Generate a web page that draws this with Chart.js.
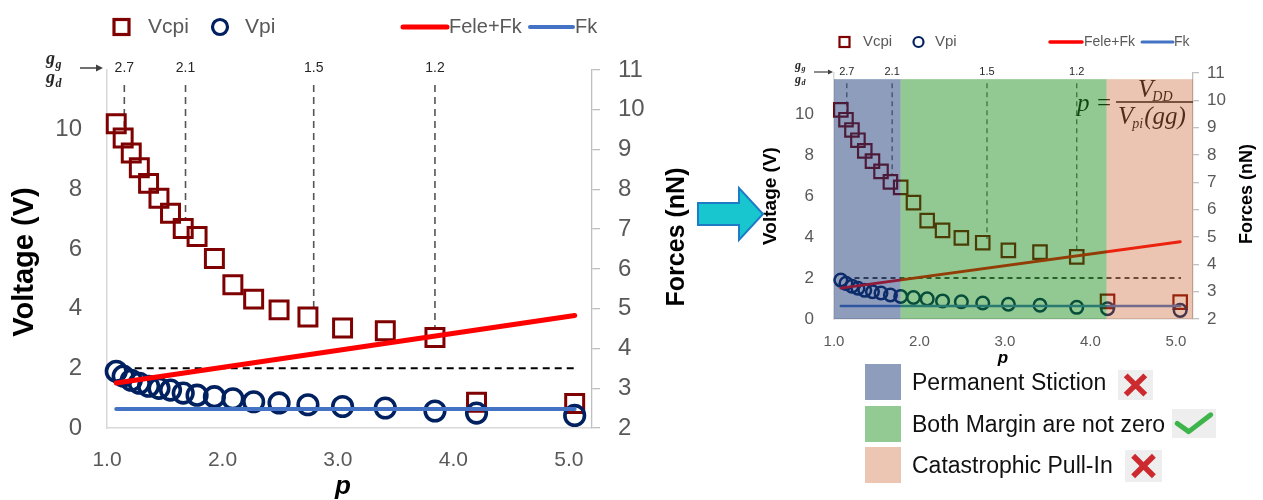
<!DOCTYPE html>
<html><head><meta charset="utf-8">
<script src="https://cdn.jsdelivr.net/npm/chart.js@4.4.0/dist/chart.umd.min.js"></script>
<style>
body{margin:0;background:#fff;width:1263px;height:500px;overflow:hidden;position:relative;font-family:"Liberation Sans",Arial,sans-serif;}
canvas{position:absolute;}
#c1{left:0;top:0;}
#c2{left:700px;top:0;}
.sw{position:absolute;left:865px;width:36px;height:36px;}
.lt{position:absolute;left:912px;font-size:23px;color:#111;line-height:26px;white-space:nowrap;}
.ic{position:absolute;}
</style></head><body>
<canvas id="c1" width="700" height="500"></canvas>
<canvas id="c2" width="563" height="380"></canvas>
<svg style="position:absolute;left:690px;top:180px" width="80" height="70">
  <polygon points="8,23 49,23 49,8 73,34 49,60 49,45 8,45" fill="#17C6CF" stroke="#1E7BC6" stroke-width="2"/>
</svg>
<div id="leg"></div>
<script>
// ---------- data ----------
const seriesNames = ['Vcpi', 'Vpi', 'Fele+Fk', 'Fk'];
const pVals = [1.08, 1.14, 1.21, 1.28, 1.36, 1.45, 1.55, 1.66, 1.78, 1.93, 2.09, 2.27, 2.49, 2.74, 3.04, 3.41, 3.84, 4.20, 5.05];
const vcpi  = [10.2, 9.72, 9.22, 8.72, 8.2, 7.7, 7.2, 6.69, 6.42, 5.68, 4.8, 4.32, 3.96, 3.72, 3.35, 3.26, 3.03, 0.86, 0.82];
const vpi   = [1.9, 1.74, 1.6, 1.5, 1.4, 1.33, 1.27, 1.17, 1.1, 1.05, 0.98, 0.88, 0.84, 0.78, 0.72, 0.67, 0.57, 0.5, 0.42];
const feleP = [1.08, 5.05];
const feleF = [3.13, 4.83];
const fkP   = [1.08, 5.05];
const fkF   = [2.48, 2.48];
const refP  = [1.24, 5.06];
const refF  = [3.5, 3.5];
const ggP      = [1.15, 1.68, 2.79, 3.84];
const ggLabels = ['2.7', '2.1', '1.5', '1.2'];
const ggTop    = 11.5;
const ggBottom = [10.1, 7.0, 3.9, 3.3];
const xTicks = [1, 2, 3, 4, 5];
const vTicks = [0, 2, 4, 6, 8, 10];
const fTicks = [2, 3, 4, 5, 6, 7, 8, 9, 10, 11];
const bandEdges  = [1.0, 1.78, 4.19, 5.2];
const bandTopV   = 11.7;
const bandColors = ['rgba(24,55,118,0.49)', 'rgba(13,133,13,0.45)', 'rgba(200,95,40,0.36)'];
const regionLabels = ['Permanent Stiction', 'Both Margin are not zero', 'Catastrophic Pull-In'];
const regionSwatches = ['#8E9DBB', '#93C993', '#ECC6B2'];

const F = '"Liberation Sans", Arial, sans-serif';
const SERIF = '"Liberation Serif", "DejaVu Serif", serif';

const L1 = {
  W:700, H:500, top:70, lW:107, rW:108, xH:72,
  yFont:24, fFont:24, xFont:21, yPad:25, fPad:18, xPad:20, tickLen:8,
  sR:12.7, sW:3, cR:9.8, cW:3.6, redW:5, blueW:4, hDashW:2, hDash:[7,5], vDashW:1.6, vDash:[7,5],
  ggFont:14, ggY:68,
  frac:{x:46, y1:64, y2:83, big:18, small:12, ax1:80, ax2:103, ay:68, aw:1.5, ah:7},
  vTitle:{x:25, y:262, size:29}, fTitle:{x:677, y:237, size:25}, pTitle:{x:343, y:487, size:26},
  legend:{y:27, sq:{x:121.5, s:15, w:3.2}, t1:148, ci:{x:220, r:7.5, w:3.2}, t2:245, font:21,
          red:[403,447,5], t3:449, blue:[530,573,4], t4:575, font2:20},
  bands:false, formula:null
};
const L2 = {
  W:563, H:380, top:73, lW:134, rW:70, xH:61,
  yFont:17, fFont:17, xFont:15, yPad:20, fPad:8, xPad:14, tickLen:6,
  sR:9.5, sW:2.2, cR:6.3, cW:2.5, redW:3, blueW:2.5, hDashW:1.3, hDash:[5,4], vDashW:1.2, vDash:[5,4],
  ggFont:11, ggY:72,
  frac:{x:95, y1:69, y2:83, big:12, small:8, ax1:114, ax2:133, ay:72, aw:1.2, ah:5},
  vTitle:{x:71, y:196, size:19}, fTitle:{x:547, y:194, size:18}, pTitle:{x:303, y:358, size:17},
  legend:{y:42, sq:{x:144.5, s:10, w:2.2}, t1:163, ci:{x:218.5, r:5, w:2.2}, t2:235, font:15,
          red:[350,382,3.5], t3:384, blue:[442,473,3], t4:474, font2:14},
  bands:true,
  formula:{px:377, base:111, big:25, small:14, eqx:397, barL:416, barR:493, barY:102, numX:438, numBase:97, denX:418, denBase:124}
};

function drawFrac(ctx, f){
  ctx.save();
  ctx.fillStyle = '#262626';
  ctx.textAlign = 'left'; ctx.textBaseline = 'alphabetic';
  ctx.font = `italic bold ${f.big}px ${SERIF}`;
  const w = ctx.measureText('g').width;
  ctx.fillText('g', f.x, f.y1);
  ctx.fillText('g', f.x, f.y2);
  ctx.font = `italic bold ${f.small}px ${SERIF}`;
  ctx.fillText('g', f.x + w + 0.5, f.y1 + f.small * 0.3);
  ctx.fillText('d', f.x + w + 0.5, f.y2 + f.small * 0.3);
  ctx.strokeStyle = '#404040'; ctx.fillStyle = '#404040'; ctx.lineWidth = f.aw;
  ctx.beginPath(); ctx.moveTo(f.ax1, f.ay); ctx.lineTo(f.ax2 - f.ah, f.ay); ctx.stroke();
  ctx.beginPath(); ctx.moveTo(f.ax2, f.ay); ctx.lineTo(f.ax2 - f.ah, f.ay - f.ah * 0.5); ctx.lineTo(f.ax2 - f.ah, f.ay + f.ah * 0.5); ctx.closePath(); ctx.fill();
  ctx.restore();
}

function drawLegend(ctx, g){
  ctx.save();
  ctx.strokeStyle = '#7F0000'; ctx.lineWidth = g.sq.w;
  ctx.strokeRect(g.sq.x - g.sq.s/2, g.y - g.sq.s/2, g.sq.s, g.sq.s);
  ctx.strokeStyle = '#002060'; ctx.lineWidth = g.ci.w;
  ctx.beginPath(); ctx.arc(g.ci.x, g.y, g.ci.r, 0, Math.PI*2); ctx.stroke();
  ctx.fillStyle = '#595959'; ctx.textBaseline = 'middle'; ctx.textAlign = 'left';
  ctx.font = `${g.font}px ${F}`;
  ctx.fillText(seriesNames[0], g.t1, g.y);
  ctx.fillText(seriesNames[1], g.t2, g.y);
  ctx.lineCap = 'round';
  ctx.strokeStyle = '#FF0000'; ctx.lineWidth = g.red[2];
  ctx.beginPath(); ctx.moveTo(g.red[0], g.y); ctx.lineTo(g.red[1], g.y); ctx.stroke();
  ctx.strokeStyle = '#4472C4'; ctx.lineWidth = g.blue[2];
  ctx.beginPath(); ctx.moveTo(g.blue[0], g.y); ctx.lineTo(g.blue[1], g.y); ctx.stroke();
  ctx.font = `${g.font2}px ${F}`;
  ctx.fillText(seriesNames[2], g.t3, g.y);
  ctx.fillText(seriesNames[3], g.t4, g.y);
  ctx.restore();
}

function drawTitleV(ctx, t, text, font){
  ctx.save();
  ctx.translate(t.x, t.y); ctx.rotate(-Math.PI/2);
  ctx.font = font; ctx.fillStyle = '#000'; ctx.textAlign = 'center'; ctx.textBaseline = 'middle';
  ctx.fillText(text, 0, 0);
  ctx.restore();
}

function makeDeco(L){
  return {
    id: 'deco',
    afterDatasetsDraw(chart){
      const ctx = chart.ctx, xs = chart.scales.x, ys = chart.scales.yV;
      if (L.formula){
        const f = L.formula;
        ctx.save();
        ctx.fillStyle = '#111'; ctx.textAlign = 'left'; ctx.textBaseline = 'alphabetic';
        ctx.font = `italic ${f.big}px ${SERIF}`;
        ctx.fillText('p', f.px, f.base);
        ctx.font = `${f.big}px ${SERIF}`;
        ctx.fillText('=', f.eqx, f.base);
        ctx.font = `italic ${f.big}px ${SERIF}`;
        ctx.fillText('V', f.numX, f.numBase);
        let w = ctx.measureText('V').width;
        ctx.font = `italic ${f.small}px ${SERIF}`;
        ctx.fillText('DD', f.numX + w - 1, f.numBase + 4);
        ctx.font = `italic ${f.big}px ${SERIF}`;
        ctx.fillText('V', f.denX, f.denBase);
        ctx.font = `italic ${f.small}px ${SERIF}`;
        ctx.fillText('pi', f.denX + w - 1, f.denBase + 4);
        const w2 = ctx.measureText('pi').width;
        ctx.font = `italic ${f.big}px ${SERIF}`;
        ctx.fillText('(gg)', f.denX + w + w2, f.denBase);
        ctx.strokeStyle = '#111'; ctx.lineWidth = 1.3;
        ctx.beginPath(); ctx.moveTo(f.barL, f.barY); ctx.lineTo(f.barR, f.barY); ctx.stroke();
        ctx.restore();
      }
      if (L.bands){
        ctx.save();
        const yT = ys.getPixelForValue(bandTopV), yB = ys.getPixelForValue(0);
        for (let i = 0; i < bandColors.length; i++){
          const x0 = xs.getPixelForValue(bandEdges[i]), x1 = xs.getPixelForValue(bandEdges[i+1]);
          ctx.fillStyle = bandColors[i];
          ctx.fillRect(x0, yT, x1 - x0, yB - yT);
        }
        ctx.restore();
      }
    },
    afterDraw(chart){
      const ctx = chart.ctx, xs = chart.scales.x;
      ctx.save();
      ctx.fillStyle = '#262626'; ctx.textAlign = 'center'; ctx.textBaseline = 'middle';
      ctx.font = `${L.ggFont}px ${F}`;
      ggP.forEach((p, i) => ctx.fillText(ggLabels[i], xs.getPixelForValue(p), L.ggY));
      ctx.restore();
      drawFrac(ctx, L.frac);
      drawTitleV(ctx, L.vTitle, 'Voltage (V)', `bold ${L.vTitle.size}px ${F}`);
      drawTitleV(ctx, L.fTitle, 'Forces (nN)', `bold ${L.fTitle.size}px ${F}`);
      ctx.save();
      ctx.font = `italic bold ${L.pTitle.size}px ${F}`; ctx.fillStyle = '#000';
      ctx.textAlign = 'center'; ctx.textBaseline = 'middle';
      ctx.fillText('p', L.pTitle.x, L.pTitle.y);
      ctx.restore();
      drawLegend(ctx, L.legend);
    }
  };
}

function makeChart(id, L){
  const pts = (xa, ya) => xa.map((x, i) => ({x: x, y: ya[i]}));
  const datasets = [
    {label: seriesNames[2], data: pts(feleP, feleF), yAxisID: 'yF', showLine: true, borderColor: '#FF0000',
     borderWidth: L.redW, pointRadius: 0, order: 1, borderCapStyle: 'round', clip: false},
    {label: seriesNames[3], data: pts(fkP, fkF), yAxisID: 'yF', showLine: true, borderColor: '#4472C4',
     borderWidth: L.blueW, pointRadius: 0, order: 2, borderCapStyle: 'round', clip: false},
    {label: seriesNames[1], data: pts(pVals, vpi), yAxisID: 'yV', showLine: false, pointStyle: 'circle',
     pointRadius: L.cR, pointBorderWidth: L.cW, pointBorderColor: '#002060', pointBackgroundColor: 'rgba(0,0,0,0)', order: 3, clip: false},
    {label: seriesNames[0], data: pts(pVals, vcpi), yAxisID: 'yV', showLine: false, pointStyle: 'rect',
     pointRadius: L.sR, pointBorderWidth: L.sW, pointBorderColor: '#7F0000', pointBackgroundColor: 'rgba(0,0,0,0)', order: 4, clip: false},
    {label: 'ref', data: pts(refP, refF), yAxisID: 'yF', showLine: true, borderColor: '#000',
     borderWidth: L.hDashW, borderDash: L.hDash, pointRadius: 0, order: 5}
  ];
  ggP.forEach((p, i) => datasets.push({label: 'gg' + i, data: [{x: p, y: ggTop}, {x: p, y: ggBottom[i]}], yAxisID: 'yV',
    showLine: true, borderColor: '#555', borderWidth: L.vDashW, borderDash: L.vDash, pointRadius: 0, order: 6}));

  return new Chart(document.getElementById(id), {
    type: 'scatter',
    data: {datasets},
    options: {
      responsive: false, animation: false, devicePixelRatio: 1,
      layout: {padding: {top: L.top, left: 0, right: 0, bottom: 0}},
      plugins: {legend: {display: false}, tooltip: {enabled: false}},
      scales: {
        x: {type: 'linear', position: 'bottom', min: 1, max: 5.2,
            afterBuildTicks: s => { s.ticks = xTicks.map(v => ({value: v})); },
            afterFit: s => { s.height = L.xH; },
            grid: {display: false, drawTicks: false},
            border: {display: true, color: '#D9D9D9', width: 1.5},
            ticks: {color: '#595959', font: {family: F, size: L.xFont}, padding: L.xPad, maxRotation: 0, autoSkip: false,
                    callback: v => Number(v).toFixed(1)}},
        yV: {type: 'linear', position: 'left', min: 0, max: 12,
            afterBuildTicks: s => { s.ticks = vTicks.map(v => ({value: v})); },
            afterFit: s => { s.width = L.lW; },
            grid: {display: false, drawTicks: false},
            border: {display: true, color: '#D9D9D9', width: 1.5},
            ticks: {color: '#595959', font: {family: F, size: L.yFont}, padding: L.yPad}},
        yF: {type: 'linear', position: 'right', min: 2, max: 11,
            afterBuildTicks: s => { s.ticks = fTicks.map(v => ({value: v})); },
            afterFit: s => { s.width = L.rW; },
            grid: {display: true, drawOnChartArea: false, drawTicks: true, tickLength: L.tickLen, color: '#BFBFBF', lineWidth: 1.3},
            border: {display: true, color: '#BFBFBF', width: 1.3},
            ticks: {color: '#595959', font: {family: F, size: L.fFont}, padding: L.fPad}}
      }
    },
    plugins: [makeDeco(L)]
  });
}

makeChart('c1', L1);
makeChart('c2', L2);

// bottom-right region legend
const leg = document.getElementById('leg');
const swTops = [364, 406, 447];
const icons = [
  {x: 1118, y: 370, w: 35, h: 30, type: 'x'},
  {x: 1172, y: 409, w: 44, h: 29, type: 'v'},
  {x: 1125, y: 450, w: 37, h: 32, type: 'x'}
];
regionLabels.forEach((t, i) => {
  const s = document.createElement('div');
  s.className = 'sw'; s.style.top = swTops[i] + 'px'; s.style.background = regionSwatches[i];
  leg.appendChild(s);
  const d = document.createElement('div');
  d.className = 'lt'; d.style.top = (swTops[i] + 5) + 'px'; d.textContent = t;
  leg.appendChild(d);
  const ic = icons[i];
  const svg = ic.type === 'x'
    ? `<svg class="ic" style="left:${ic.x}px;top:${ic.y}px" width="${ic.w}" height="${ic.h}"><rect width="${ic.w}" height="${ic.h}" fill="#EEEEEE"/><path d="M${ic.w*0.22},${ic.h*0.18} L${ic.w*0.78},${ic.h*0.82} M${ic.w*0.78},${ic.h*0.18} L${ic.w*0.22},${ic.h*0.82}" stroke="#CC2A2E" stroke-width="5.5" stroke-linecap="butt"/></svg>`
    : `<svg class="ic" style="left:${ic.x}px;top:${ic.y}px" width="${ic.w}" height="${ic.h}"><rect width="${ic.w}" height="${ic.h}" fill="#EEEEEE"/><path d="M${ic.w*0.12},${ic.h*0.5} L${ic.w*0.38},${ic.h*0.78} L${ic.w*0.88},${ic.h*0.2}" stroke="#3DB54A" stroke-width="5" fill="none" stroke-linejoin="round" stroke-linecap="round"/></svg>`;
  leg.insertAdjacentHTML('beforeend', svg);
});
</script>
</body></html>
